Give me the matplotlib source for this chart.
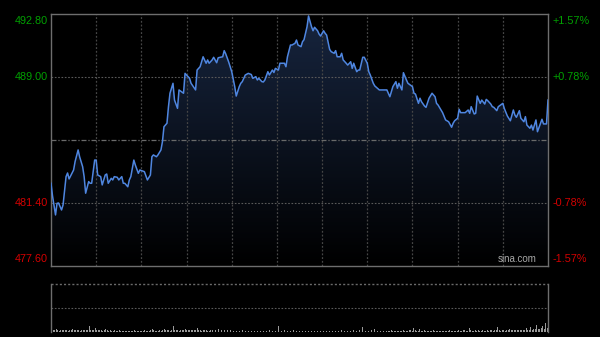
import numpy as np
import matplotlib
matplotlib.use("Agg")
import matplotlib.pyplot as plt
from matplotlib.colors import LinearSegmentedColormap

# ---------------- data ----------------
prev_close = 485.20
y_min, y_max = 477.60, 492.80
n_minutes = 330  # HK session: 09:30-12:00, 13:00-16:00

minutes = [0, 1, 3, 4, 5, 7, 8, 10, 11, 12, 15, 16, 18, 19, 21, 22, 23, 25, 26, 27,
           29, 30, 31, 33, 34, 36, 37, 38, 40, 41, 42, 44, 45, 47, 48, 49, 51, 52, 53, 55,
           56, 58, 59, 62, 64, 66, 67, 68, 70, 71, 73, 74, 75, 77, 78, 79, 81, 82, 84, 85,
           88, 89, 92, 93, 96, 97, 99, 101, 103, 104, 105, 107, 108, 110, 111, 114, 115, 116, 118, 119,
           120, 122, 123, 125, 126, 127, 129, 131, 133, 134, 136, 137, 138, 140, 141, 142, 144, 145, 147, 148,
           149, 151, 152, 153, 155, 156, 157, 159, 160, 162, 163, 164, 166, 167, 168, 170, 171, 173, 174, 175,
           177, 178, 179, 181, 182, 183, 185, 186, 188, 189, 190, 192, 193, 194, 196, 197, 199, 200, 201, 203,
           204, 205, 207, 208, 210, 211, 212, 214, 215, 218, 220, 223, 225, 226, 227, 229, 230, 231, 233, 234,
           236, 237, 240, 241, 242, 244, 245, 246, 248, 249, 251, 253, 255, 256, 257, 259, 260, 262, 264, 266,
           267, 268, 270, 271, 272, 274, 275, 277, 278, 279, 281, 282, 283, 285, 286, 288, 289, 290, 292, 293,
           294, 296, 297, 300, 301, 303, 304, 305, 307, 308, 309, 311, 312, 314, 315, 316, 318, 319, 320, 322,
           323, 325, 326, 327, 329, 330]

prices = [482.59, 481.83, 480.68, 481.38, 481.40, 480.98, 481.28, 482.99, 483.21, 482.85,
          483.39, 483.90, 484.60, 484.19, 483.59, 482.99, 481.99, 482.69, 482.59, 482.59,
          483.99, 483.99, 483.09, 482.99, 482.49, 483.09, 483.15, 482.59, 482.89, 482.79,
          482.99, 482.95, 482.79, 482.99, 482.59, 482.59, 482.38, 482.79, 482.99, 483.99,
          483.69, 483.19, 483.39, 483.29, 482.79, 483.09, 484.19, 484.30, 484.19, 484.30,
          484.60, 485.10, 486.00, 486.21, 487.21, 488.02, 488.62, 487.61, 487.11, 488.22,
          488.02, 489.22, 488.92, 488.62, 488.22, 489.42, 489.62, 490.22, 489.83, 490.03,
          489.83, 490.03, 490.19, 489.86, 490.16, 490.22, 490.59, 490.40, 489.90, 489.62,
          489.32, 488.42, 487.85, 488.42, 488.62, 488.72, 489.12, 489.22, 489.15, 488.92,
          489.02, 488.82, 488.92, 488.72, 488.70, 488.82, 489.32, 489.12, 489.42, 489.27,
          489.52, 489.42, 489.83, 489.83, 489.83, 489.62, 490.22, 490.93, 490.93, 491.03,
          491.23, 490.93, 490.83, 491.13, 491.25, 492.03, 492.68, 492.03, 491.79, 492.00,
          491.79, 491.59, 491.47, 491.79, 491.64, 491.53, 490.67, 490.53, 490.43, 490.59,
          490.22, 490.22, 490.43, 490.03, 489.83, 489.72, 489.92, 489.52, 489.83, 489.32,
          489.42, 489.42, 490.19, 490.19, 489.83, 489.32, 489.12, 488.62, 488.46, 488.22,
          488.22, 488.22, 487.81, 488.11, 488.42, 488.72, 488.32, 488.62, 488.22, 489.26,
          488.82, 488.62, 488.42, 488.02, 487.97, 487.41, 487.72, 487.51, 487.25, 487.17,
          487.72, 488.02, 487.81, 487.41, 487.31, 487.01, 486.85, 486.41, 486.30, 485.97,
          486.21, 486.36, 486.51, 487.05, 486.85, 486.85, 486.85, 487.01, 486.81, 487.21,
          486.77, 486.81, 487.85, 487.41, 487.61, 487.37, 487.65, 487.57, 487.37, 487.21,
          487.17, 486.97, 487.21, 487.41, 487.10, 486.65, 486.51, 486.36, 487.01, 486.71,
          486.57, 486.97, 486.51, 486.30, 486.61, 486.10, 485.91, 486.10, 485.80, 486.41,
          485.70, 486.21, 486.45, 486.17, 486.17, 487.61]

volume = [115, 25, 18, 30, 22, 15, 20, 18, 24, 16, 20, 14, 18, 22, 35, 20, 16, 24, 18, 15,
          22, 18, 20, 16, 25, 60, 22, 18, 20, 40, 24, 16, 18, 20, 15, 22, 30, 18, 14, 16,
          12, 15, 18, 14, 12, 16, 10, 14, 12, 15, 10, 12, 14, 10, 12, 25, 14, 12, 15, 10,
          14, 12, 16, 12, 10, 14, 18, 30, 16, 12, 14, 15, 18, 14, 20, 35, 18, 16, 22, 14,
          18, 60, 20, 16, 22, 14, 18, 20, 16, 35, 22, 18, 16, 20, 24, 18, 22, 45, 20, 16,
          14, 18, 16, 20, 14, 12, 18, 16, 14, 20, 18, 35, 22, 18, 16, 20, 45, 18, 14, 16,
          12, 14, 16, 12, 10, 14, 12, 16, 14, 10, 12, 14, 16, 12, 10, 14, 12, 10, 14, 12,
          10, 12, 14, 10, 12, 16, 14, 12, 18, 14, 12, 65, 16, 14, 12, 16, 18, 14, 12, 10,
          14, 16, 20, 14, 12, 10, 14, 12, 16, 12, 14, 10, 12, 14, 16, 12, 14, 10, 12, 14,
          12, 10, 14, 12, 16, 14, 12, 10, 14, 12, 16, 14, 12, 16, 18, 14, 12, 14, 16, 12,
          14, 18, 16, 12, 14, 16, 20, 55, 18, 14, 16, 12, 14, 16, 12, 30, 14, 12, 16, 14,
          12, 14, 16, 12, 14, 12, 16, 14, 12, 10, 14, 12, 10, 14, 16, 12, 14, 12, 16, 18,
          14, 45, 16, 14, 12, 30, 14, 12, 16, 14, 12, 10, 12, 14, 16, 12, 14, 12, 10, 14,
          12, 14, 10, 12, 14, 16, 12, 14, 10, 12, 14, 16, 12, 14, 18, 16, 14, 12, 45, 16,
          14, 12, 16, 14, 18, 12, 14, 16, 14, 12, 16, 14, 18, 16, 14, 20, 18, 55, 16, 14,
          18, 16, 14, 20, 16, 35, 18, 16, 20, 18, 22, 20, 16, 24, 20, 18, 40, 22, 20, 55,
          24, 26, 30, 70, 28, 35, 40, 60, 30, 90, 45]
vol_max = 480

left_labels = ["492.80", "489.00", "481.40", "477.60"]
left_values = [492.80, 489.00, 481.40, 477.60]
right_labels = ["+1.57%", "+0.78%", "-0.78%", "-1.57%"]

# ---------------- style ----------------
BG = "#000000"
FRAME = "#6e6e6e"
GRID = "#464646"
LINE = "#4f86e0"
GREEN = "#00a000"
RED = "#d40000"
FONT = "Liberation Sans"

fig = plt.figure(figsize=(6.0, 3.37), dpi=100, facecolor=BG)
W, H = 600.0, 337.0
ax = fig.add_axes([51 / W, 1 - 266 / H, 497 / W, 252 / H], facecolor=BG)
axv = fig.add_axes([51 / W, 1 - 332 / H, 497 / W, 48 / H], facecolor=BG)

t = np.array(minutes, dtype=float)
p = np.array(prices)

ax.set_xlim(0, n_minutes)
ax.set_ylim(y_min, y_max)

# gradient fill under line
fill = ax.fill_between(t, p, y_min, facecolor="none", edgecolor="none")
cmap = LinearSegmentedColormap.from_list("g", ["#000000", "#17253f"])
grad = np.linspace(1, 0, 256).reshape(-1, 1)
im = ax.imshow(grad, cmap=cmap, extent=[0, n_minutes, y_min, y_max],
               aspect="auto", origin="upper", zorder=1, vmin=0, vmax=1)
im.set_clip_path(fill.get_paths()[0], transform=ax.transData)

# grid
for k in range(1, 11):
    ax.axvline(30 * k, color=GRID, lw=0.9, ls=(0, (1.5, 1.5)), zorder=2)
for v in (489.00, 481.40):
    ax.axhline(v, color="#5a5a5a", lw=0.8, ls=(0, (1.5, 1.5)), zorder=2)
ax.axhline(prev_close, color="#6a6a6a", lw=0.9, ls=(0, (4, 1.5, 1, 1.5)), zorder=2)

ax.plot(t, p, color=LINE, lw=1.1, zorder=4, solid_joinstyle="round")

for s in ax.spines.values():
    s.set_color(FRAME)
    s.set_linewidth(1.0)
ax.set_xticks([])
ax.set_yticks([])

# labels
fs = 7.8
for i, (lab, val) in enumerate(zip(left_labels, left_values)):
    col = GREEN if val > prev_close else RED
    va = "center"
    off = 0
    if i == 0:
        va, off = "top", -1.2
    elif i == len(left_labels) - 1:
        va, off = "bottom", 1.2
    ax.annotate(lab, xy=(0, val), xycoords=("axes fraction", "data"),
                xytext=(-2.2, off), textcoords="offset points", ha="right", va=va,
                color=col, fontsize=fs, family=FONT)
    ax.annotate(right_labels[i], xy=(1, val), xycoords=("axes fraction", "data"),
                xytext=(3.5, off), textcoords="offset points", ha="left", va=va,
                color=col, fontsize=fs, family=FONT)

ax.text(0.977, 0.006, "sina.com", transform=ax.transAxes, ha="right", va="bottom",
        color="#a8a8a8", fontsize=7.0, family=FONT, zorder=5)

# volume panel
axv.set_xlim(-0.5, n_minutes + 0.5)
axv.set_ylim(0, vol_max)
axv.bar(np.arange(len(volume)), volume, width=0.55, color="#9a9a9a", linewidth=0)
axv.axhline(vol_max * 0.5, color="#5a5a5a", lw=0.8, ls=(0, (1.5, 1.5)))
axv.axhline(vol_max, color="#6a6a6a", lw=1.0, ls=(0, (1.5, 1.5)), clip_on=False)
axv.spines["top"].set_visible(False)
axv.spines["bottom"].set_visible(False)
for side in ("left", "right"):
    axv.spines[side].set_color(FRAME)
    axv.spines[side].set_linewidth(1.0)
axv.set_xticks([])
axv.set_yticks([])

fig.savefig("out.png", dpi=100, facecolor=BG)
